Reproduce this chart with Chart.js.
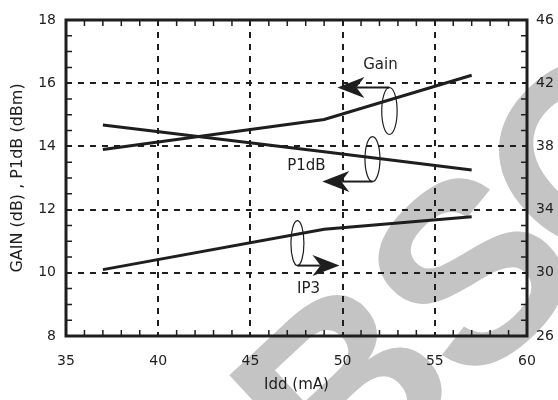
<!DOCTYPE html>
<html>
<head>
<meta charset="utf-8">
<script src="https://cdn.jsdelivr.net/npm/chart.js@4/dist/chart.umd.min.js"></script>
<style>
  html, body { margin: 0; padding: 0; background: #fff; }
  #wrap { width: 558px; height: 400px; position: relative; }
</style>
</head>
<body>
<div id="wrap"><canvas id="chart"></canvas></div>
<script>
// values
const idd = [37, 49, 57];
const gain = [13.9, 14.85, 16.25];   // dB, left axis
const p1db = [14.68, 13.83, 13.25];  // dBm, left axis
const ip3 = [30.2, 32.75, 33.55];    // dBm, right axis

const xTicks = [35, 40, 45, 50, 55, 60];
const leftTicks = [8, 10, 12, 14, 16, 18];
const rightTicks = [26, 30, 34, 38, 42, 46];

const FONT = "'DejaVu Sans', sans-serif";
const INK = "#1e1e1e";

function toPoints(ys) {
  return idd.map((x, i) => ({ x: x, y: ys[i] }));
}

// callouts: ellipse round a curve, arrow pointing to the axis it belongs to
const callouts = [
  { label: "Gain", text: [52.05, 16.58], ell: [52.54, 15.12, 7.7, 23.5], from: "top", tip: 49.72 },
  { label: "P1dB", text: [48.04, 13.38], ell: [51.62, 13.60, 7.5, 22.5], from: "bottom", tip: 48.9 },
  { label: "IP3", text: [48.15, 9.49], ell: [47.55, 10.94, 6.5, 22.5], from: "bottom", tip: 49.83 }
];

function arrow(ctx, x1, y1, x2, y2) {
  const len = Math.hypot(x2 - x1, y2 - y1);
  const ux = (x2 - x1) / len, uy = (y2 - y1) / len;
  const L = 27, W = 10.5, N = 19;
  ctx.beginPath();
  ctx.moveTo(x1, y1);
  ctx.lineTo(x2 - ux * N, y2 - uy * N);
  ctx.lineWidth = 2;
  ctx.stroke();
  ctx.beginPath();
  ctx.moveTo(x2, y2);
  ctx.lineTo(x2 - ux * L - uy * W, y2 - uy * L + ux * W);
  ctx.lineTo(x2 - ux * N, y2 - uy * N);
  ctx.lineTo(x2 - ux * L + uy * W, y2 - uy * L - ux * W);
  ctx.closePath();
  ctx.fill();
}

// big grey letters behind the plot
const stamp = [["B", 356, 401], ["S", 482, 284], ["O", 604, 165]];

const watermark = {
  id: "watermark",
  beforeDraw(chart) {
    const ctx = chart.ctx;
    ctx.save();
    ctx.fillStyle = "#c4c4c4";
    ctx.font = "bold 255px 'Liberation Sans', sans-serif";
    ctx.textBaseline = "middle";
    ctx.textAlign = "center";
    stamp.forEach(([ch, cx, cy]) => {
      ctx.save();
      ctx.translate(cx, cy);
      ctx.rotate(-43 * Math.PI / 180);
      ctx.fillText(ch, 0, 0);
      ctx.restore();
    });
    ctx.restore();
  }
};

const frame = {
  id: "frame",
  afterDraw(chart) {
    const ctx = chart.ctx;
    const a = chart.chartArea;
    const sx = chart.scales.x, sy = chart.scales.y;
    ctx.save();
    ctx.strokeStyle = INK;
    ctx.fillStyle = INK;

    // minor ticks, pointing inwards
    ctx.lineWidth = 1.5;
    ctx.beginPath();
    for (let v = sx.min + 1; v < sx.max; v += 1) {
      if (v % 5 === 0) continue;
      const px = sx.getPixelForValue(v);
      ctx.moveTo(px, a.bottom); ctx.lineTo(px, a.bottom - 6);
      ctx.moveTo(px, a.top); ctx.lineTo(px, a.top + 6);
    }
    for (let v = sy.min + 0.5; v < sy.max; v += 0.5) {
      if (v % 2 === 0) continue;
      const py = sy.getPixelForValue(v);
      ctx.moveTo(a.left, py); ctx.lineTo(a.left + 6, py);
      ctx.moveTo(a.right, py); ctx.lineTo(a.right - 6, py);
    }
    ctx.stroke();

    ctx.lineWidth = 3;
    ctx.strokeRect(a.left, a.top, a.right - a.left, a.bottom - a.top);

    // callouts
    ctx.font = "15px " + FONT;
    ctx.textAlign = "center";
    ctx.textBaseline = "middle";
    callouts.forEach(c => {
      const ex = sx.getPixelForValue(c.ell[0]);
      const ey = sy.getPixelForValue(c.ell[1]);
      ctx.lineWidth = 1.2;
      ctx.beginPath();
      ctx.ellipse(ex, ey, c.ell[2], c.ell[3], 0, 0, Math.PI * 2);
      ctx.stroke();
      const ay = c.from === "top" ? ey - c.ell[3] : ey + c.ell[3];
      arrow(ctx, ex, ay, sx.getPixelForValue(c.tip), ay);
      ctx.fillText(c.label, sx.getPixelForValue(c.text[0]), sy.getPixelForValue(c.text[1]));
    });
    ctx.restore();
  }
};

const lineStyle = {
  borderColor: INK,
  borderWidth: 3,
  pointRadius: 0,
  tension: 0,
  fill: false
};

new Chart(document.getElementById("chart"), {
  type: "line",
  data: {
    datasets: [
      Object.assign({ label: "Gain", data: toPoints(gain), yAxisID: "y" }, lineStyle),
      Object.assign({ label: "P1dB", data: toPoints(p1db), yAxisID: "y" }, lineStyle),
      Object.assign({ label: "IP3", data: toPoints(ip3), yAxisID: "y1" }, lineStyle)
    ]
  },
  options: {
    responsive: true,
    maintainAspectRatio: false,
    animation: false,
    layout: { padding: { top: 20, left: 0, right: 0, bottom: 0 } },
    plugins: { legend: { display: false }, tooltip: { enabled: false } },
    scales: {
      x: {
        type: "linear",
        min: 35,
        max: 60,
        afterBuildTicks: s => { s.ticks = xTicks.map(v => ({ value: v })); },
        afterFit: s => { s.height = 64; },
        ticks: { padding: 17, color: INK, font: { family: FONT, size: 14 } },
        grid: { color: INK, lineWidth: 2, drawTicks: false },
        border: { display: false, dash: [6, 6] },
        title: { display: true, text: "Idd (mA)", color: INK, font: { family: FONT, size: 15 }, padding: { top: 0, bottom: 6 } }
      },
      y: {
        position: "left",
        min: 8,
        max: 18,
        afterBuildTicks: s => { s.ticks = leftTicks.map(v => ({ value: v })); },
        afterFit: s => { s.width = 66; },
        ticks: { padding: 10, color: INK, font: { family: FONT, size: 14 } },
        grid: { color: INK, lineWidth: 2, drawTicks: false },
        border: { display: false, dash: [6, 6] },
        title: { display: true, text: "GAIN (dB) , P1dB (dBm)", color: INK, font: { family: FONT, size: 16 }, padding: { top: 8, bottom: 0 } }
      },
      y1: {
        position: "right",
        min: 26,
        max: 46,
        afterBuildTicks: s => { s.ticks = rightTicks.map(v => ({ value: v })); },
        afterFit: s => { s.width = 31; },
        ticks: { padding: 9, color: INK, font: { family: FONT, size: 14 } },
        grid: { display: false, drawTicks: false },
        border: { display: false }
      }
    }
  },
  plugins: [watermark, frame]
});
</script>
</body>
</html>
